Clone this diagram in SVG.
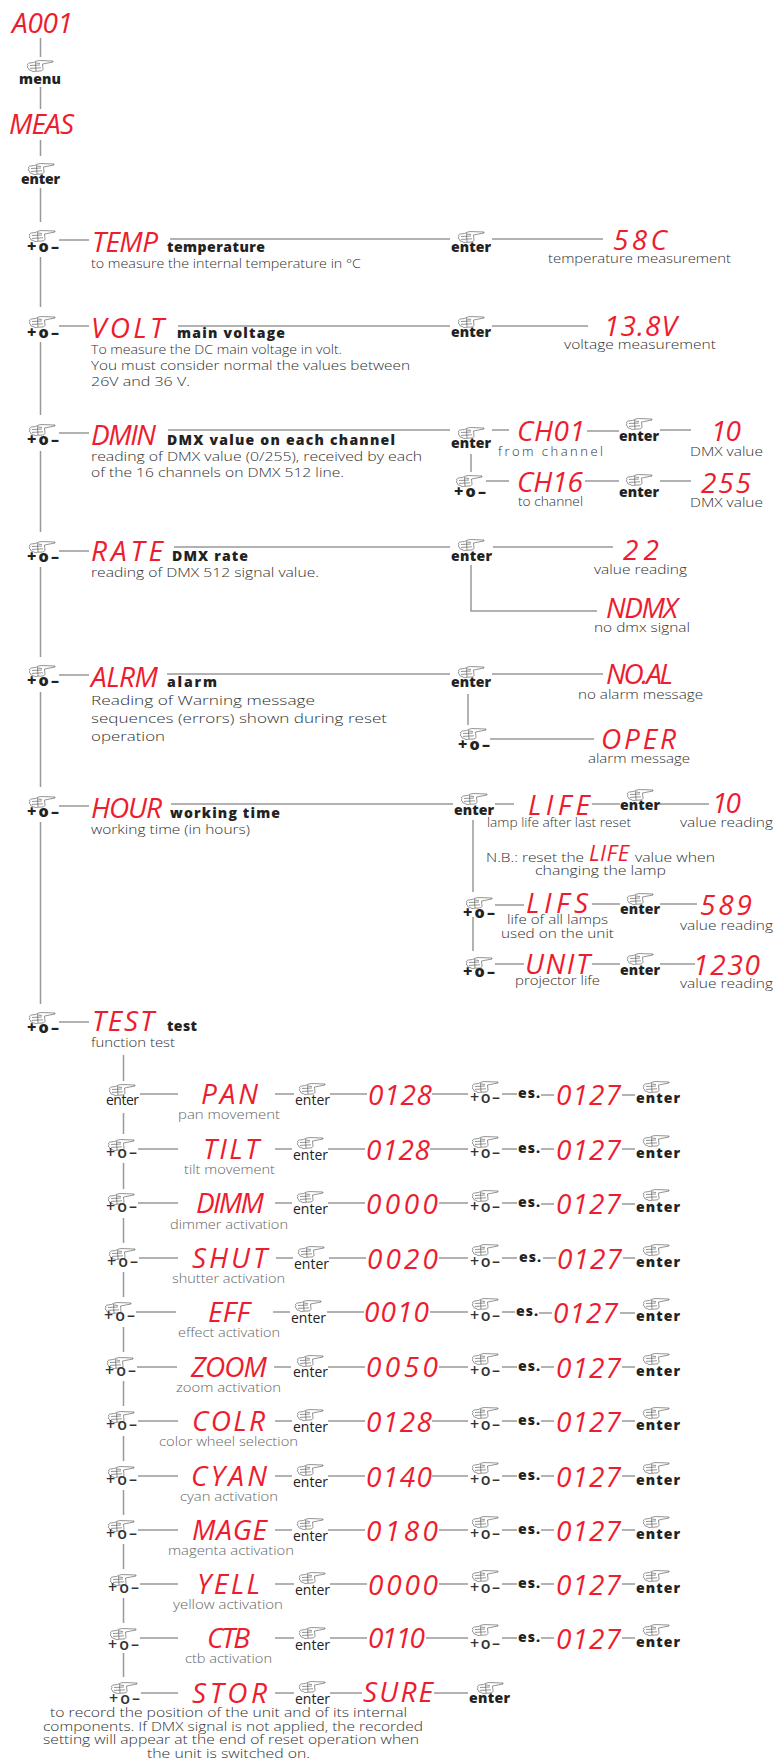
<svg xmlns="http://www.w3.org/2000/svg" width="775" height="1760" viewBox="0 0 775 1760">
<style>
text{font-family:"Open Sans","Liberation Sans",sans-serif}
.r{font-style:italic;font-size:28px;font-weight:400;fill:#ed1c2e}
.rs{font-style:italic;font-size:22px;font-weight:400;fill:#ed1c2e}
.d{font-size:13px;font-weight:300;fill:#2f2f2f}
.g{font-size:13px;font-weight:300;fill:#666}
.t{font-size:14px;font-weight:800;fill:#222}
.b{font-size:14px;font-weight:800;fill:#222}
.e{font-size:14px;font-weight:400;fill:#222}
.p{font-size:16px;font-weight:800;fill:#222}
.q{font-size:16px;font-weight:600;fill:#333}
.l{fill:none;stroke:#999;stroke-width:1.5}
</style>
<defs>
<symbol id="hand" viewBox="0 0 26 12" width="26" height="12" overflow="visible">
<path d="M26 1L14 .6C11 .4 9 1 6.5 2.5L2.5 3C.5 3.4 0 4.6 1 5.5C0 6.5 .2 8 1.6 8.4C1.4 9.6 2.4 10.5 4 10.3C5 11.6 7 11.8 9 11.2L13 11C15 11 16 10 16 9L15.5 4L26 2ZM3 5.5L13 5M3 8.4L14 7.8M13 3.5L9 3M8.5 2L9 11" fill="#fff" stroke="#3a3a3a" stroke-width=".55"/>
</symbol>
</defs>
<rect width="775" height="1760" fill="#fff"/>
<g id="connectors">
<path class="l" d="M40.5 38V57M40.5 87V109M40.5 140V156M40.5 188V222M40.5 257V307M40.5 342V415M40.5 451V532M40.5 567V657M40.5 692V787M40.5 822V1004"/>
<path class="l" d="M59 240H89M59 326H89M59 433H89M59 551H89M59 675H89M59 806H89M59 1022H89"/>
<path class="l" d="M170 239H450M178 326H450M168 430H450M174 547H450M167 674H450M171 804H453"/>
<path class="l" d="M492 239H603M492 326H588"/>
<path class="l" d="M492 430H509M587 431H619M660 430H691M471 454V472M486 481H509M585 481H619M660 481H691"/>
<path class="l" d="M493 547H613M471 565V611H597"/>
<path class="l" d="M492 674H603M468 694V725M490 739H594"/>
<path class="l" d="M495 804H514M592 804H620M660 804H709M473 820V892M495 905H524M592 904H620M660 904H697M473 917V951M495 964H524M592 964H620M660 964H695"/>
<path class="l" d="M123.5 1055V1081M123.5 1113V1134M123.5 1163V1189M123.5 1218V1243M123.5 1272V1297M123.5 1327V1352M123.5 1381V1406M123.5 1436V1461M123.5 1490V1515M123.5 1544V1569M123.5 1598V1623M123.5 1653V1677"/>
<path class="l" d="M140 1094H178M275 1094H294M330 1094H367M432 1094H468M502 1094H517M541 1095H554M622 1095H635"/>
<path class="l" d="M138 1149H178M275 1149H292M328 1149H365M430 1149H468M502 1149H517M541 1149H554M622 1149H635"/>
<path class="l" d="M138 1203H178M275 1203H292M328 1203H365M439 1203H468M502 1203H517M541 1204H554M622 1204H635"/>
<path class="l" d="M139 1258H178M276 1258H293M329 1258H366M439 1258H468M502 1258H517M543 1258H556M623 1258H635"/>
<path class="l" d="M136 1312H176M273 1312H290M327 1312H364M430 1312H468M502 1312H515M539 1313H552M620 1313H635"/>
<path class="l" d="M137 1367H177M274 1367H291M328 1367H365M439 1367H468M502 1367H517M541 1367H554M622 1367H635"/>
<path class="l" d="M138 1421H178M275 1421H292M328 1421H365M432 1421H468M502 1421H517M541 1421H554M622 1421H635"/>
<path class="l" d="M138 1476H178M275 1476H292M328 1476H365M432 1476H468M502 1476H517M541 1476H554M622 1476H635"/>
<path class="l" d="M138 1530H178M275 1530H292M328 1530H365M439 1530H468M502 1530H517M541 1530H554M622 1530H635"/>
<path class="l" d="M140 1584H178M275 1584H294M330 1584H367M439 1584H468M502 1584H517M541 1584H554M622 1584H635"/>
<path class="l" d="M140 1638H178M275 1638H294M330 1638H367M426 1638H468M502 1638H517M541 1638H554M622 1638H635"/>
<path class="l" d="M141 1693H178M275 1693H294M330 1693H362M434 1693H468"/>
</g>
<g id="n-a001"><text class="r" x="12" y="33" textLength="61">A001</text></g>
<g id="b-menu"><use href="#hand" x="27" y="60"/><text class="b" x="19" y="84" textLength="42">menu</text></g>
<g id="n-meas"><text class="r" x="9" y="134" textLength="65">MEAS</text></g>
<g id="b-enter0"><use href="#hand" x="28" y="163"/><text class="b" x="21" y="184" textLength="39">enter</text></g>

<g id="b-temp"><use href="#hand" x="29" y="230"/><text class="p" x="27" y="252" textLength="32">+o–</text></g>
<g id="n-temp"><text class="r" x="92" y="252" textLength="66">TEMP</text><text class="t" x="167" y="252" textLength="98">temperature</text><text class="d" x="91" y="268" textLength="270" lengthAdjust="spacingAndGlyphs">to measure the internal temperature in °C</text></g>
<g id="b-temp2"><use href="#hand" x="458" y="231"/><text class="b" x="451" y="252" textLength="40">enter</text></g>
<g id="n-58c"><text class="r" x="613" y="250" textLength="54">58C</text><text class="d" x="548" y="263" textLength="183" lengthAdjust="spacingAndGlyphs">temperature measurement</text></g>

<g id="b-volt"><use href="#hand" x="29" y="316"/><text class="p" x="27" y="338" textLength="32">+o–</text></g>
<g id="n-volt"><text class="r" x="91" y="338" textLength="73">VOLT</text><text class="t" x="177" y="338" textLength="108">main voltage</text><text class="d" x="91" y="354" textLength="251" lengthAdjust="spacingAndGlyphs">To measure the DC main voltage in volt.</text><text class="d" x="91" y="370" textLength="319" lengthAdjust="spacingAndGlyphs">You must consider normal the values between</text><text class="d" x="91" y="386" textLength="99" lengthAdjust="spacingAndGlyphs">26V and 36 V.</text></g>
<g id="b-volt2"><use href="#hand" x="458" y="316"/><text class="b" x="451" y="337" textLength="40">enter</text></g>
<g id="n-138v"><text class="r" x="604" y="336" textLength="73">13.8V</text><text class="d" x="564" y="349" textLength="152" lengthAdjust="spacingAndGlyphs">voltage measurement</text></g>

<g id="b-dmin"><use href="#hand" x="29" y="424"/><text class="p" x="27" y="445" textLength="32">+o–</text></g>
<g id="n-dmin"><text class="r" x="91" y="445" textLength="65">DMIN</text><text class="t" x="167" y="445" textLength="228">DMX value on each channel</text><text class="d" x="91" y="461" textLength="331" lengthAdjust="spacingAndGlyphs">reading of DMX value (0/255), received by each</text><text class="d" x="91" y="477" textLength="253" lengthAdjust="spacingAndGlyphs">of the 16 channels on DMX 512 line.</text></g>
<g id="b-dmin2"><use href="#hand" x="458" y="427"/><text class="b" x="451" y="448" textLength="40">enter</text></g>
<g id="n-ch01"><text class="r" x="517" y="441" textLength="68">CH01</text><text class="d" x="498" y="456" textLength="105">from channel</text></g>
<g id="b-ch01"><use href="#hand" x="626" y="418"/><text class="b" x="619" y="441" textLength="40">enter</text></g>
<g id="n-10a"><text class="r" x="711" y="441" textLength="30">10</text><text class="d" x="690" y="456" textLength="73" lengthAdjust="spacingAndGlyphs">DMX value</text></g>
<g id="b-ch16"><use href="#hand" x="456" y="475"/><text class="p" x="454" y="497" textLength="32">+o–</text></g>
<g id="n-ch16"><text class="r" x="517" y="492" textLength="66">CH16</text><text class="d" x="518" y="506" textLength="65" lengthAdjust="spacingAndGlyphs">to channel</text></g>
<g id="b-ch16b"><use href="#hand" x="626" y="474"/><text class="b" x="619" y="497" textLength="40">enter</text></g>
<g id="n-255"><text class="r" x="701" y="493" textLength="50">255</text><text class="d" x="690" y="507" textLength="73" lengthAdjust="spacingAndGlyphs">DMX value</text></g>

<g id="b-rate"><use href="#hand" x="29" y="541"/><text class="p" x="27" y="562" textLength="32">+o–</text></g>
<g id="n-rate"><text class="r" x="91" y="561" textLength="72">RATE</text><text class="t" x="172" y="561" textLength="76">DMX rate</text><text class="d" x="91" y="577" textLength="228" lengthAdjust="spacingAndGlyphs">reading of  DMX 512 signal value.</text></g>
<g id="b-rate2"><use href="#hand" x="458" y="539"/><text class="b" x="451" y="561" textLength="41">enter</text></g>
<g id="n-22"><text class="r" x="623" y="560" textLength="36">22</text><text class="d" x="594" y="574" textLength="93" lengthAdjust="spacingAndGlyphs">value reading</text></g>
<g id="n-ndmx"><text class="r" x="606" y="618" textLength="72">NDMX</text><text class="d" x="594" y="632" textLength="96" lengthAdjust="spacingAndGlyphs">no dmx signal</text></g>

<g id="b-alrm"><use href="#hand" x="29" y="665"/><text class="p" x="27" y="686" textLength="32">+o–</text></g>
<g id="n-alrm"><text class="r" x="91" y="687" textLength="67">ALRM</text><text class="t" x="167" y="687" textLength="50">alarm</text><text class="d" x="91" y="705" textLength="224" lengthAdjust="spacingAndGlyphs">Reading of Warning message</text><text class="d" x="91" y="723" textLength="296" lengthAdjust="spacingAndGlyphs">sequences (errors) shown during reset</text><text class="d" x="91" y="741" textLength="74" lengthAdjust="spacingAndGlyphs">operation</text></g>
<g id="b-alrm2"><use href="#hand" x="458" y="666"/><text class="b" x="451" y="687" textLength="40">enter</text></g>
<g id="n-noal"><text class="r" x="606" y="684" textLength="67">NO.AL</text><text class="d" x="578" y="699" textLength="125" lengthAdjust="spacingAndGlyphs">no alarm message</text></g>
<g id="b-oper"><use href="#hand" x="460" y="728"/><text class="p" x="458" y="750" textLength="32">+o–</text></g>
<g id="n-oper"><text class="r" x="601" y="749" textLength="75">OPER</text><text class="d" x="588" y="763" textLength="102" lengthAdjust="spacingAndGlyphs">alarm message</text></g>

<g id="b-hour"><use href="#hand" x="29" y="796"/><text class="p" x="27" y="817" textLength="32">+o–</text></g>
<g id="n-hour"><text class="r" x="91" y="818" textLength="71">HOUR</text><text class="t" x="170" y="818" textLength="110">working time</text><text class="d" x="91" y="834" textLength="159" lengthAdjust="spacingAndGlyphs">working time (in hours)</text></g>
<g id="b-hour2"><use href="#hand" x="461" y="793"/><text class="b" x="454" y="815" textLength="40">enter</text></g>
<g id="n-life"><text class="r" x="528" y="815" textLength="62">LIFE</text><text class="d" x="487" y="827" textLength="144" lengthAdjust="spacingAndGlyphs">lamp life after last reset</text></g>
<g id="b-life"><use href="#hand" x="627" y="789"/><text class="b" x="620" y="810" textLength="40">enter</text></g>
<g id="n-10b"><text class="r" x="712" y="813" textLength="29">10</text><text class="d" x="680" y="827" textLength="93" lengthAdjust="spacingAndGlyphs">value reading</text></g>
<g id="note"><text class="d" x="486" y="862" textLength="98" lengthAdjust="spacingAndGlyphs">N.B.: reset the</text><text class="rs" x="589" y="861" textLength="40">LIFE</text><text class="d" x="635" y="862" textLength="80" lengthAdjust="spacingAndGlyphs">value when</text><text class="d" x="535" y="875" textLength="131" lengthAdjust="spacingAndGlyphs">changing the lamp</text></g>
<g id="b-lifs"><use href="#hand" x="466" y="897"/><text class="p" x="463" y="918" textLength="32">+o–</text></g>
<g id="n-lifs"><text class="r" x="526" y="913" textLength="62">LIFS</text><text class="d" x="507" y="924" textLength="101" lengthAdjust="spacingAndGlyphs">life of all lamps</text><text class="d" x="501" y="938" textLength="113" lengthAdjust="spacingAndGlyphs">used on the unit</text></g>
<g id="b-lifs2"><use href="#hand" x="627" y="893"/><text class="b" x="620" y="914" textLength="40">enter</text></g>
<g id="n-589"><text class="r" x="700" y="915" textLength="52">589</text><text class="d" x="680" y="930" textLength="93" lengthAdjust="spacingAndGlyphs">value reading</text></g>
<g id="b-unit"><use href="#hand" x="466" y="957"/><text class="p" x="463" y="977" textLength="32">+o–</text></g>
<g id="n-unit"><text class="r" x="525" y="974" textLength="65">UNIT</text><text class="d" x="515" y="985" textLength="85" lengthAdjust="spacingAndGlyphs">projector life</text></g>
<g id="b-unit2"><use href="#hand" x="627" y="953"/><text class="b" x="620" y="975" textLength="40">enter</text></g>
<g id="n-1230"><text class="r" x="693" y="975" textLength="67">1230</text><text class="d" x="680" y="988" textLength="93" lengthAdjust="spacingAndGlyphs">value reading</text></g>

<g id="b-test"><use href="#hand" x="29" y="1012"/><text class="p" x="27" y="1033" textLength="32">+o–</text></g>
<g id="n-test"><text class="r" x="92" y="1031" textLength="62">TEST</text><text class="t" x="167" y="1031" textLength="30">test</text><text class="d" x="91" y="1047" textLength="84" lengthAdjust="spacingAndGlyphs">function test</text></g>

<g id="row-pan"><use href="#hand" x="109" y="1084"/><text class="e" x="106" y="1105" textLength="33">enter</text><text class="r" x="201" y="1104" textLength="57">PAN</text><text class="g" x="178" y="1119" textLength="102" lengthAdjust="spacingAndGlyphs">pan movement</text><use href="#hand" x="299" y="1083"/><text class="e" x="295" y="1105" textLength="35">enter</text><text class="r" x="368" y="1105" textLength="64">0128</text><use href="#hand" x="472" y="1081"/><text class="q" x="470" y="1103" textLength="30">+o–</text><text class="t" x="518" y="1098" textLength="22">es.</text><text class="r" x="556" y="1105" textLength="65">0127</text><use href="#hand" x="643" y="1081"/><text class="b" x="636" y="1103" textLength="44">enter</text></g>
<g id="row-tilt"><use href="#hand" x="108" y="1139"/><text class="q" x="106" y="1158" textLength="31">+o–</text><text class="r" x="203" y="1159" textLength="56">TILT</text><text class="g" x="184" y="1174" textLength="91" lengthAdjust="spacingAndGlyphs">tilt movement</text><use href="#hand" x="297" y="1137"/><text class="e" x="293" y="1160" textLength="35">enter</text><text class="r" x="366" y="1160" textLength="64">0128</text><use href="#hand" x="472" y="1136"/><text class="q" x="470" y="1158" textLength="30">+o–</text><text class="t" x="518" y="1153" textLength="22">es.</text><text class="r" x="556" y="1160" textLength="65">0127</text><use href="#hand" x="643" y="1135"/><text class="b" x="636" y="1158" textLength="44">enter</text></g>
<g id="row-dimm"><use href="#hand" x="108" y="1193"/><text class="q" x="106" y="1212" textLength="31">+o–</text><text class="r" x="196" y="1213" textLength="68">DIMM</text><text class="g" x="170" y="1229" textLength="118" lengthAdjust="spacingAndGlyphs">dimmer activation</text><use href="#hand" x="297" y="1191"/><text class="e" x="293" y="1214" textLength="35">enter</text><text class="r" x="366" y="1214" textLength="72">0000</text><use href="#hand" x="472" y="1190"/><text class="q" x="470" y="1212" textLength="30">+o–</text><text class="t" x="518" y="1207" textLength="22">es.</text><text class="r" x="556" y="1214" textLength="65">0127</text><use href="#hand" x="643" y="1189"/><text class="b" x="636" y="1212" textLength="44">enter</text></g>
<g id="row-shut"><use href="#hand" x="109" y="1248"/><text class="q" x="107" y="1267" textLength="31">+o–</text><text class="r" x="192" y="1268" textLength="75">SHUT</text><text class="g" x="172" y="1283" textLength="113" lengthAdjust="spacingAndGlyphs">shutter activation</text><use href="#hand" x="298" y="1246"/><text class="e" x="294" y="1269" textLength="35">enter</text><text class="r" x="367" y="1269" textLength="71">0020</text><use href="#hand" x="472" y="1244"/><text class="q" x="470" y="1267" textLength="30">+o–</text><text class="t" x="519" y="1262" textLength="22">es.</text><text class="r" x="557" y="1269" textLength="65">0127</text><use href="#hand" x="643" y="1244"/><text class="b" x="636" y="1267" textLength="44">enter</text></g>
<g id="row-eff"><use href="#hand" x="105" y="1302"/><text class="q" x="104" y="1321" textLength="31">+o–</text><text class="r" x="208" y="1322" textLength="42">EFF</text><text class="g" x="178" y="1337" textLength="102" lengthAdjust="spacingAndGlyphs">effect activation</text><use href="#hand" x="295" y="1300"/><text class="e" x="291" y="1323" textLength="35">enter</text><text class="r" x="364" y="1322" textLength="65">0010</text><use href="#hand" x="472" y="1298"/><text class="q" x="470" y="1321" textLength="30">+o–</text><text class="t" x="516" y="1316" textLength="22">es.</text><text class="r" x="553" y="1323" textLength="65">0127</text><use href="#hand" x="643" y="1298"/><text class="b" x="636" y="1321" textLength="44">enter</text></g>
<g id="row-zoom"><use href="#hand" x="107" y="1357"/><text class="q" x="105" y="1376" textLength="31">+o–</text><text class="r" x="191" y="1377" textLength="76">ZOOM</text><text class="g" x="176" y="1392" textLength="105" lengthAdjust="spacingAndGlyphs">zoom activation</text><use href="#hand" x="297" y="1355"/><text class="e" x="293" y="1377" textLength="35">enter</text><text class="r" x="366" y="1377" textLength="72">0050</text><use href="#hand" x="472" y="1353"/><text class="q" x="470" y="1376" textLength="30">+o–</text><text class="t" x="518" y="1371" textLength="22">es.</text><text class="r" x="556" y="1378" textLength="65">0127</text><use href="#hand" x="643" y="1353"/><text class="b" x="636" y="1376" textLength="44">enter</text></g>
<g id="row-colr"><use href="#hand" x="108" y="1411"/><text class="q" x="106" y="1430" textLength="31">+o–</text><text class="r" x="192" y="1431" textLength="73">COLR</text><text class="g" x="159" y="1446" textLength="139" lengthAdjust="spacingAndGlyphs">color wheel selection</text><use href="#hand" x="297" y="1409"/><text class="e" x="293" y="1432" textLength="35">enter</text><text class="r" x="366" y="1432" textLength="66">0128</text><use href="#hand" x="472" y="1407"/><text class="q" x="470" y="1430" textLength="30">+o–</text><text class="t" x="518" y="1425" textLength="22">es.</text><text class="r" x="556" y="1432" textLength="65">0127</text><use href="#hand" x="643" y="1407"/><text class="b" x="636" y="1430" textLength="44">enter</text></g>
<g id="row-cyan"><use href="#hand" x="108" y="1466"/><text class="q" x="106" y="1485" textLength="31">+o–</text><text class="r" x="191" y="1486" textLength="76">CYAN</text><text class="g" x="180" y="1501" textLength="98" lengthAdjust="spacingAndGlyphs">cyan activation</text><use href="#hand" x="297" y="1464"/><text class="e" x="293" y="1487" textLength="35">enter</text><text class="r" x="366" y="1487" textLength="66">0140</text><use href="#hand" x="472" y="1462"/><text class="q" x="470" y="1485" textLength="30">+o–</text><text class="t" x="518" y="1480" textLength="22">es.</text><text class="r" x="556" y="1487" textLength="65">0127</text><use href="#hand" x="643" y="1462"/><text class="b" x="636" y="1485" textLength="44">enter</text></g>
<g id="row-mage"><use href="#hand" x="108" y="1520"/><text class="q" x="106" y="1539" textLength="31">+o–</text><text class="r" x="192" y="1540" textLength="75">MAGE</text><text class="g" x="168" y="1555" textLength="126" lengthAdjust="spacingAndGlyphs">magenta activation</text><use href="#hand" x="297" y="1518"/><text class="e" x="293" y="1541" textLength="35">enter</text><text class="r" x="366" y="1541" textLength="72">0180</text><use href="#hand" x="472" y="1516"/><text class="q" x="470" y="1539" textLength="30">+o–</text><text class="t" x="518" y="1534" textLength="22">es.</text><text class="r" x="556" y="1541" textLength="65">0127</text><use href="#hand" x="643" y="1516"/><text class="b" x="636" y="1539" textLength="44">enter</text></g>
<g id="row-yell"><use href="#hand" x="110" y="1574"/><text class="q" x="108" y="1593" textLength="31">+o–</text><text class="r" x="197" y="1594" textLength="63">YELL</text><text class="g" x="173" y="1609" textLength="110" lengthAdjust="spacingAndGlyphs">yellow activation</text><use href="#hand" x="299" y="1572"/><text class="e" x="295" y="1595" textLength="35">enter</text><text class="r" x="368" y="1595" textLength="70">0000</text><use href="#hand" x="472" y="1570"/><text class="q" x="470" y="1593" textLength="30">+o–</text><text class="t" x="518" y="1588" textLength="22">es.</text><text class="r" x="556" y="1595" textLength="65">0127</text><use href="#hand" x="643" y="1570"/><text class="b" x="636" y="1593" textLength="44">enter</text></g>
<g id="row-ctb"><use href="#hand" x="110" y="1628"/><text class="q" x="108" y="1650" textLength="31">+o–</text><text class="r" x="207" y="1648" textLength="43">CTB</text><text class="g" x="185" y="1663" textLength="87" lengthAdjust="spacingAndGlyphs">ctb activation</text><use href="#hand" x="299" y="1627"/><text class="e" x="295" y="1650" textLength="35">enter</text><text class="r" x="368" y="1648" textLength="57">0110</text><use href="#hand" x="472" y="1624"/><text class="q" x="470" y="1649" textLength="30">+o–</text><text class="t" x="518" y="1642" textLength="22">es.</text><text class="r" x="556" y="1649" textLength="65">0127</text><use href="#hand" x="643" y="1624"/><text class="b" x="636" y="1647" textLength="44">enter</text></g>
<g id="row-stor"><use href="#hand" x="111" y="1682"/><text class="q" x="109" y="1704" textLength="31">+o–</text><text class="r" x="192" y="1703" textLength="75">STOR</text><use href="#hand" x="299" y="1681"/><text class="e" x="295" y="1704" textLength="35">enter</text><text class="r" x="363" y="1702" textLength="70">SURE</text><use href="#hand" x="477" y="1682"/><text class="b" x="469" y="1703" textLength="41">enter</text></g>
<g id="footer"><text class="d" x="50" y="1717" textLength="357" lengthAdjust="spacingAndGlyphs">to record the position of the unit and of its internal</text><text class="d" x="43" y="1731" textLength="380" lengthAdjust="spacingAndGlyphs">components. If DMX signal is not applied, the recorded</text><text class="d" x="43" y="1744" textLength="376" lengthAdjust="spacingAndGlyphs">setting will appear at the end of reset operation when</text><text class="d" x="147" y="1758" textLength="163" lengthAdjust="spacingAndGlyphs">the unit is switched on.</text></g>
</svg>
